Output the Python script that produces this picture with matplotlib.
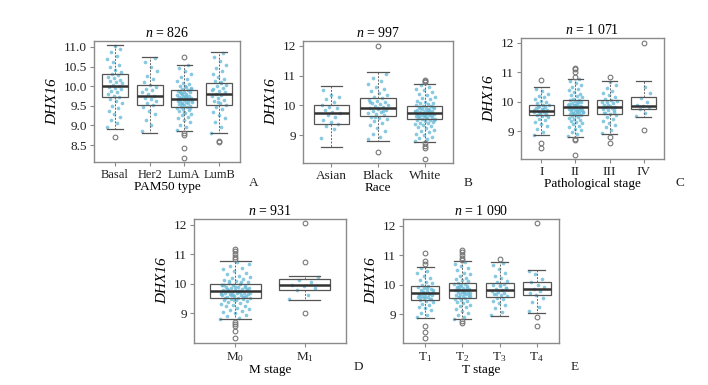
import numpy as np
import matplotlib
matplotlib.use("Agg")
import matplotlib.pyplot as plt

plt.rcParams['font.family'] = ['Liberation Serif', 'DejaVu Serif']
plt.rcParams['mathtext.fontset'] = 'custom'
plt.rcParams['mathtext.rm'] = 'Liberation Serif'
plt.rcParams['mathtext.it'] = 'Liberation Serif:italic'
plt.rcParams['font.size'] = 9.5

# ------------------------------
# 数据
# ------------------------------
# A: PAM50 type, n = 826
a_labels = ['Basal', 'Her2', 'LumA', 'LumB']
a_stats = [  # whislo, q1, med, q3, whishi
    [8.91, 9.73, 10.00, 10.31, 11.04],
    [8.81, 9.52, 9.75, 10.03, 10.75],
    [8.86, 9.46, 9.68, 9.90, 10.55],
    [8.80, 9.53, 9.81, 10.08, 10.87],
]
a_fliers = [[8.71], [], [10.73, 8.81, 8.75, 8.42, 8.18], [8.58, 8.60]]
a_points = [
    [8.95, 9.05, 9.15, 9.22, 9.3, 9.38, 9.45, 9.5, 9.56, 9.62, 9.68, 9.72, 9.76, 9.8, 9.84,
     9.88, 9.92, 9.95, 9.98, 10.01, 10.04, 10.07, 10.1, 10.13, 10.17, 10.2, 10.24, 10.28,
     10.32, 10.37, 10.42, 10.48, 10.55, 10.62, 10.7, 10.78, 10.86, 10.95, 11.02],
    [8.85, 9.0, 9.15, 9.28, 9.38, 9.46, 9.52, 9.57, 9.62, 9.67, 9.71, 9.75, 9.79, 9.84, 9.89,
     9.94, 9.99, 10.04, 10.1, 10.18, 10.27, 10.38, 10.5, 10.62, 10.72],
    [8.88, 8.95, 9.02, 9.08, 9.13, 9.18, 9.22, 9.26, 9.3, 9.33, 9.36, 9.39, 9.42, 9.44, 9.46,
     9.48, 9.5, 9.52, 9.54, 9.56, 9.58, 9.6, 9.61, 9.63, 9.64, 9.66, 9.67, 9.68, 9.69, 9.7,
     9.72, 9.73, 9.75, 9.76, 9.78, 9.8, 9.82, 9.84, 9.86, 9.88, 9.9, 9.92, 9.95, 9.98, 10.01,
     10.05, 10.09, 10.13, 10.18, 10.23, 10.3, 10.38, 10.46, 10.53, 9.55, 9.65, 9.74, 9.85,
     9.45, 9.35, 9.62, 9.71, 9.79, 9.93, 10.0],
    [8.82, 8.95, 9.08, 9.18, 9.27, 9.35, 9.42, 9.48, 9.53, 9.58, 9.62, 9.66, 9.7, 9.74, 9.78,
     9.81, 9.84, 9.88, 9.92, 9.96, 10.0, 10.04, 10.08, 10.13, 10.18, 10.24, 10.3, 10.38,
     10.46, 10.55, 10.65, 10.75, 10.85, 9.6, 9.9, 10.1],
]

# B: Race, n = 997
b_labels = ['Asian', 'Black', 'White']
b_stats = [
    [8.61, 9.36, 9.75, 10.00, 10.64],
    [8.81, 9.64, 9.92, 10.25, 11.13],
    [8.78, 9.53, 9.75, 9.97, 10.71],
]
b_fliers = [[], [12.0, 8.42], [10.80, 10.85, 10.78, 8.72, 8.62, 8.58, 8.20]]
b_points = [
    [8.9, 9.2, 9.3, 9.38, 9.45, 9.52, 9.6, 9.67, 9.73, 9.78, 9.83, 9.9, 9.95, 10.02, 10.1,
     10.2, 10.28, 10.35, 10.5],
    [8.85, 8.95, 9.05, 9.15, 9.25, 9.33, 9.4, 9.47, 9.53, 9.58, 9.62, 9.66, 9.7, 9.74, 9.78,
     9.82, 9.85, 9.88, 9.91, 9.94, 9.97, 10.0, 10.03, 10.07, 10.11, 10.15, 10.19, 10.23,
     10.28, 10.34, 10.4, 10.47, 10.55, 10.63, 10.72, 10.82, 10.93, 11.05, 9.9, 10.1, 9.8, 9.6],
    [8.8, 8.85, 8.9, 8.95, 9.0, 9.05, 9.1, 9.14, 9.18, 9.22, 9.26, 9.3, 9.33, 9.36, 9.39,
     9.42, 9.45, 9.47, 9.49, 9.51, 9.53, 9.55, 9.57, 9.59, 9.61, 9.63, 9.64, 9.66, 9.67, 9.69,
     9.7, 9.72, 9.73, 9.75, 9.76, 9.78, 9.79, 9.81, 9.82, 9.84, 9.86, 9.88, 9.9, 9.92, 9.94,
     9.96, 9.98, 10.0, 10.03, 10.06, 10.09, 10.12, 10.16, 10.2, 10.24, 10.28, 10.33, 10.38,
     10.44, 10.5, 10.56, 10.62, 10.68, 9.52, 9.58, 9.62, 9.68, 9.74, 9.8, 9.85, 9.9, 9.95,
     9.65, 9.71, 9.77],
]

# C: Pathological stage, n = 1 071
c_labels = ['I', 'II', 'III', 'IV']
c_stats = [
    [8.85, 9.54, 9.69, 9.90, 10.48],
    [8.81, 9.53, 9.80, 10.05, 10.78],
    [8.90, 9.58, 9.80, 10.07, 10.71],
    [9.46, 9.75, 9.85, 10.14, 10.71],
]
c_fliers = [[10.73, 8.60, 8.41], [11.15, 11.10, 11.0, 10.85, 8.72, 8.70, 8.18],
            [10.82, 8.80, 8.58], [12.0, 9.03]]
c_points = [
    [8.88, 8.98, 9.08, 9.16, 9.24, 9.3, 9.36, 9.41, 9.46, 9.5, 9.54, 9.57, 9.6, 9.63, 9.66,
     9.69, 9.72, 9.75, 9.78, 9.81, 9.84, 9.87, 9.9, 9.94, 9.98, 10.03, 10.08, 10.14, 10.2,
     10.27, 10.35, 10.44, 9.56, 9.62, 9.7, 9.76, 9.83],
    [8.84, 8.9, 8.96, 9.02, 9.08, 9.13, 9.18, 9.23, 9.27, 9.31, 9.35, 9.39, 9.42, 9.45, 9.48,
     9.51, 9.53, 9.55, 9.58, 9.6, 9.62, 9.64, 9.66, 9.68, 9.7, 9.72, 9.74, 9.76, 9.78, 9.8,
     9.82, 9.84, 9.86, 9.88, 9.9, 9.92, 9.95, 9.98, 10.01, 10.04, 10.07, 10.1, 10.14, 10.18,
     10.22, 10.27, 10.32, 10.38, 10.44, 10.5, 10.57, 10.64, 10.71, 10.76, 9.57, 9.63, 9.69,
     9.75, 9.81, 9.87, 9.93, 9.99, 9.61, 9.73, 9.85],
    [8.92, 9.02, 9.12, 9.2, 9.28, 9.35, 9.42, 9.48, 9.53, 9.58, 9.62, 9.66, 9.7, 9.74, 9.77,
     9.8, 9.83, 9.86, 9.9, 9.94, 9.98, 10.02, 10.06, 10.1, 10.15, 10.21, 10.28, 10.36, 10.45,
     10.55, 10.65, 9.6, 9.72, 9.88, 10.0],
    [9.5, 9.62, 9.76, 9.8, 9.85, 9.9, 10.0, 10.12, 10.3, 10.5],
]

# D: M stage, n = 931
d_labels = [r'$\mathrm{M}_0$', r'$\mathrm{M}_1$']
d_stats = [
    [8.80, 9.51, 9.76, 10.00, 10.77],
    [9.47, 9.79, 9.95, 10.17, 10.28],
]
d_fliers = [[11.18, 11.10, 11.0, 10.90, 10.85, 8.72, 8.65, 8.58, 8.42, 8.17],
            [12.05, 10.75, 9.03]]
d_points = [
    [8.82, 8.86, 8.9, 8.95, 9.0, 9.04, 9.08, 9.12, 9.16, 9.2, 9.24, 9.27, 9.3, 9.33, 9.36,
     9.39, 9.42, 9.44, 9.46, 9.48, 9.5, 9.52, 9.54, 9.56, 9.58, 9.6, 9.62, 9.63, 9.65, 9.66,
     9.68, 9.69, 9.71, 9.72, 9.74, 9.75, 9.77, 9.78, 9.8, 9.81, 9.83, 9.85, 9.87, 9.89, 9.91,
     9.93, 9.95, 9.97, 10.0, 10.03, 10.06, 10.09, 10.12, 10.16, 10.2, 10.24, 10.28, 10.33,
     10.38, 10.43, 10.49, 10.55, 10.61, 10.67, 10.73, 9.53, 9.57, 9.61, 9.67, 9.73, 9.79,
     9.84, 9.9, 9.96, 9.55, 9.64, 9.7, 9.76, 9.82, 9.88, 9.45, 9.98, 10.05, 10.1],
    [9.5, 9.62, 9.78, 9.85, 9.92, 9.98, 10.05, 10.15, 10.22],
]

# E: T stage, n = 1 090
e_labels = [r'$\mathrm{T}_1$', r'$\mathrm{T}_2$', r'$\mathrm{T}_3$', r'$\mathrm{T}_4$']
e_stats = [
    [8.89, 9.49, 9.71, 9.96, 10.61],
    [8.83, 9.55, 9.82, 10.07, 10.80],
    [8.94, 9.60, 9.82, 10.07, 10.78],
    [9.06, 9.64, 9.84, 10.08, 10.48],
]
e_fliers = [[11.06, 10.80, 10.70, 8.62, 8.41, 8.21],
            [11.18, 11.10, 11.0, 10.90, 10.85, 8.77, 8.72],
            [10.86], [12.08, 8.90, 8.62]]
e_points = [
    [8.9, 8.98, 9.06, 9.13, 9.2, 9.26, 9.31, 9.36, 9.4, 9.44, 9.48, 9.51, 9.54, 9.57, 9.6,
     9.62, 9.65, 9.67, 9.7, 9.72, 9.74, 9.77, 9.8, 9.83, 9.86, 9.89, 9.92, 9.96, 10.0, 10.05,
     10.1, 10.16, 10.23, 10.3, 10.38, 10.47, 10.56, 9.5, 9.58, 9.64, 9.69, 9.75, 9.81, 9.88,
     9.55],
    [8.85, 8.92, 8.99, 9.06, 9.12, 9.18, 9.23, 9.28, 9.33, 9.37, 9.41, 9.45, 9.48, 9.51, 9.54,
     9.57, 9.6, 9.62, 9.64, 9.67, 9.69, 9.71, 9.73, 9.75, 9.77, 9.79, 9.81, 9.83, 9.85, 9.87,
     9.89, 9.92, 9.95, 9.98, 10.01, 10.04, 10.07, 10.11, 10.15, 10.19, 10.24, 10.29, 10.35,
     10.41, 10.48, 10.55, 10.62, 10.7, 10.77, 9.58, 9.66, 9.74, 9.82, 9.9, 9.97, 9.63, 9.78,
     9.93],
    [8.96, 9.08, 9.2, 9.3, 9.38, 9.45, 9.51, 9.56, 9.61, 9.65, 9.69, 9.73, 9.77, 9.8, 9.83,
     9.86, 9.9, 9.94, 9.98, 10.03, 10.08, 10.14, 10.21, 10.3, 10.4, 10.52, 10.65, 10.75, 9.7,
     9.88, 10.0],
    [9.1, 9.25, 9.4, 9.55, 9.65, 9.72, 9.8, 9.86, 9.92, 10.0, 10.08, 10.2, 10.35, 10.45],
]

# ------------------------------
# 作图
# ------------------------------
fig = plt.figure(figsize=(7.08, 3.85), dpi=100)
W, H = 708, 385


def px_axes(x0, y0, x1, y1):
    return fig.add_axes([x0 / W, 1 - y1 / H, (x1 - x0) / W, (y1 - y0) / H])


def jitter(n, w=0.22):
    k = np.arange(n)
    return ((k * 0.6180339887) % 1 - 0.5) * 2 * w


def panel(ax, labels, stats, fliers, points, title, xlabel, ylim, yticks, yfmt='%g'):
    pos = np.arange(1, len(labels) + 1)
    bstats = []
    for lab, s, f in zip(labels, stats, fliers):
        bstats.append(dict(label=lab, whislo=s[0], q1=s[1], med=s[2], q3=s[3],
                           whishi=s[4], fliers=f))
    for p, vals in zip(pos, points):
        ax.scatter(p + jitter(len(vals)), vals, s=7, color='#6cbcd9', alpha=0.8,
                   linewidths=0, zorder=2)
    ax.bxp(bstats, positions=pos, widths=0.75, capwidths=0.45, patch_artist=True,
           boxprops=dict(facecolor='none', edgecolor='#555555', linewidth=0.9),
           medianprops=dict(color='#333333', linewidth=1.8),
           whiskerprops=dict(color='#666666', linewidth=0.7, linestyle=(0, (2, 1.5))),
           capprops=dict(color='#555555', linewidth=0.9),
           flierprops=dict(marker='o', markersize=3.4, markerfacecolor='none',
                           markeredgecolor='#777777', markeredgewidth=0.8),
           zorder=3)
    ax.set_xlim(0.4, len(labels) + 0.6)
    ax.set_ylim(*ylim)
    ax.set_yticks(yticks)
    ax.yaxis.set_major_formatter(matplotlib.ticker.FormatStrFormatter(yfmt))
    ax.set_title(title, fontsize=10, pad=3)
    ax.set_xlabel(xlabel, fontsize=9.5, labelpad=0)
    ax.set_ylabel('DHX16', fontstyle='italic', fontsize=11, labelpad=3)
    for sp in ax.spines.values():
        sp.set_color('#8a8a8a')
        sp.set_linewidth(1.0)
    ax.tick_params(length=3, width=0.8, color='#8a8a8a', labelsize=9.5,
                   labelcolor='#222222', pad=2)


axA = px_axes(94, 41, 240, 162)
panel(axA, a_labels, a_stats, a_fliers, a_points, r'$n$ = 826', 'PAM50 type',
      (8.07, 11.15), [8.5, 9.0, 9.5, 10.0, 10.5, 11.0], '%.1f')
axA.tick_params(axis='x', labelsize=9)

axB = px_axes(303, 41, 453, 163)
panel(axB, b_labels, b_stats, b_fliers, b_points, r'$n$ = 997', 'Race',
      (8.06, 12.16), [9, 10, 11, 12])

axC = px_axes(521, 38, 664, 159)
panel(axC, c_labels, c_stats, c_fliers, c_points, r'$n$ = 1 071', 'Pathological stage',
      (8.05, 12.16), [9, 10, 11, 12])

axD = px_axes(194, 219, 346, 343)
panel(axD, d_labels, d_stats, d_fliers, d_points, r'$n$ = 931', 'M stage',
      (8.0, 12.2), [9, 10, 11, 12])

axE = px_axes(403, 219, 559, 343)
panel(axE, e_labels, e_stats, e_fliers, e_points, r'$n$ = 1 090', 'T stage',
      (8.03, 12.22), [9, 10, 11, 12])

# 面板字母
for lab, x, y in [('A', 254, 183), ('B', 468, 183), ('C', 680, 183),
                  ('D', 358, 367), ('E', 575, 367)]:
    fig.text(x / W, 1 - y / H, lab, fontsize=9.5, ha='center', va='center', color='#222222')

fig.savefig('out.png', dpi=100)
